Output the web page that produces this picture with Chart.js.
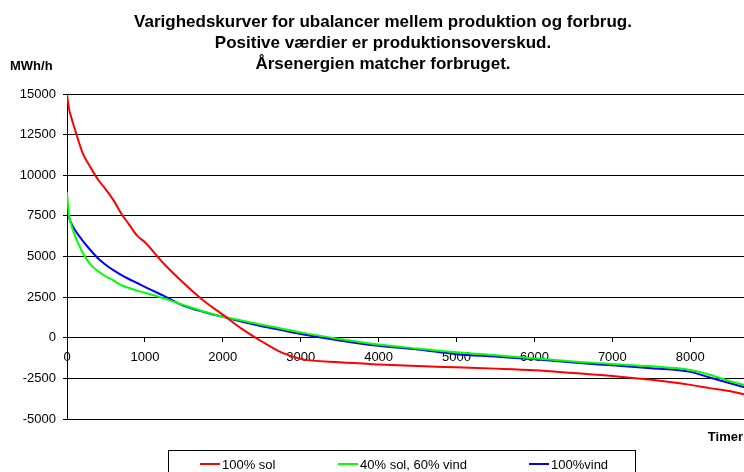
<!DOCTYPE html>
<html>
<head>
<meta charset="utf-8">
<script src="https://cdn.jsdelivr.net/npm/chart.js@4/dist/chart.umd.min.js"></script>
<style>
  html, body { margin: 0; padding: 0; background: #fff; overflow: hidden; }
  body { width: 744px; height: 472px; position: relative; font-family: "Liberation Sans", Arial, sans-serif; color: #000; }
  #c { position: absolute; left: 0; top: 0; }
  .title { position: absolute; top: 11px; left: 0; width: 766px; text-align: center;
           font-weight: bold; font-size: 17px; line-height: 21px; }
  .unit { position: absolute; left: 10px; top: 58px; font-weight: bold; font-size: 13px; line-height: 15px; }
  .xname { position: absolute; right: 1px; top: 429px; font-weight: bold; font-size: 13px; line-height: 15px; }
  .legend { position: absolute; left: 168px; top: 450px; width: 468px; height: 40px; border: 1px solid #000; box-sizing: border-box; }
  .item { position: absolute; top: 6px; font-size: 13px; line-height: 15px; white-space: nowrap; }
  .item i { position: absolute; left: -22px; top: 6px; width: 20px; height: 2px; }
</style>
</head>
<body>
<canvas id="c" width="744" height="472"></canvas>
<div class="title">Varighedskurver for ubalancer mellem produktion og forbrug.<br>Positive værdier er produktionsoverskud.<br>Årsenergien matcher forbruget.</div>
<div class="unit">MWh/h</div>
<div class="xname">Timer</div>
<div class="legend" id="legend"></div>
<script>
// duration curves, hours of the year sorted by imbalance (MWh/h)
var HOURS = [0, 25, 50, 100, 200, 300, 400, 500, 600, 700, 800, 900, 1000, 1250, 1500, 1750,
  2000, 2250, 2500, 2750, 3000, 3500, 4000, 4500, 5000, 5500, 6000, 6500, 7000, 7500,
  8000, 8250, 8500, 8760];

var SOL = [15000, 14100, 13650, 12850, 11380, 10500, 9720, 9120, 8440, 7620, 6950, 6280, 5880,
  4520, 3350, 2290, 1420, 530, -230, -900, -1300, -1510, -1640, -1740, -1820, -1900, -2000,
  -2170, -2350, -2590, -2900, -3100, -3280, -3560];

var SOL_VIND = [8950, 7550, 7040, 6300, 5250, 4520, 4090, 3770, 3520, 3230, 3060, 2900, 2770,
  2420, 2010, 1620, 1295, 1050, 800, 570, 330, -70, -420, -660, -890, -1070, -1270,
  -1460, -1610, -1760, -1980, -2280, -2660, -2990];

var VIND = [7750, 7400, 7100, 6650, 5980, 5400, 4880, 4480, 4150, 3860, 3600, 3370, 3130,
  2560, 1960, 1590, 1290, 980, 710, 470, 230, -170, -500, -720, -1010, -1160, -1320,
  -1520, -1700, -1880, -2100, -2450, -2780, -3130];

var LABELS = ["100% sol", "40% sol, 60% vind", "100%vind"];
var COLORS = ["#ff0000", "#00ff00", "#0000ff"];
var LEGEND_X = [53, 191, 382]; // text left inside legend box

var X_TICKS = [0, 1000, 2000, 3000, 4000, 5000, 6000, 7000, 8000];
var Y_TICKS = [-5000, -2500, 0, 2500, 5000, 7500, 10000, 12500, 15000];
var X_MAX = 8690; // the plot is cut at the right edge

var FONT = "'Liberation Sans', Arial, sans-serif";

function series(vals, i) {
  return {
    label: LABELS[i],
    data: HOURS.map(function (h, k) { return { x: h, y: vals[k] }; }),
    borderColor: COLORS[i],
    backgroundColor: COLORS[i],
    borderWidth: 2,
    pointRadius: 0,
    cubicInterpolationMode: "monotone",
    fill: false,
  };
}

function fixedTicks(list) {
  return function (s) { s.ticks = list.map(function (v) { return { value: v }; }); };
}

function plain(v) { return String(v); }

new Chart(document.getElementById("c"), {
  type: "line",
  data: { datasets: [series(SOL, 0), series(SOL_VIND, 1), series(VIND, 2)] },
  options: {
    responsive: false,
    devicePixelRatio: 1,
    animation: false,
    layout: { padding: { top: 94, left: 20, right: 0, bottom: 53 } },
    plugins: { legend: { display: false }, title: { display: false }, tooltip: { enabled: false } },
    scales: {
      x: {
        type: "linear",
        min: 0,
        max: X_MAX,
        position: { y: 0 },
        afterBuildTicks: fixedTicks(X_TICKS),
        ticks: { color: "#000", padding: 8, maxRotation: 0, autoSkip: false,
                 callback: plain, font: { family: FONT, size: 13 } },
        grid: { drawOnChartArea: false, drawTicks: true, tickLength: 4, color: "#000" },
        border: { color: "#000" },
        afterFit: function (s) { s.height = 0; },
      },
      y: {
        min: Y_TICKS[0],
        max: Y_TICKS[Y_TICKS.length - 1],
        afterBuildTicks: fixedTicks(Y_TICKS),
        ticks: { color: "#000", padding: 7, callback: plain, font: { family: FONT, size: 13 } },
        grid: { color: "#000", drawTicks: true, tickLength: 4 },
        border: { color: "#000", width: 1 },
        afterFit: function (s) { s.width = 47; },
      },
    },
  },
});

var lg = document.getElementById("legend");
LABELS.forEach(function (txt, i) {
  var it = document.createElement("div");
  it.className = "item";
  it.style.left = LEGEND_X[i] + "px";
  var ln = document.createElement("i");
  ln.style.background = COLORS[i];
  it.appendChild(ln);
  it.appendChild(document.createTextNode(txt));
  lg.appendChild(it);
});
</script>
</body>
</html>
